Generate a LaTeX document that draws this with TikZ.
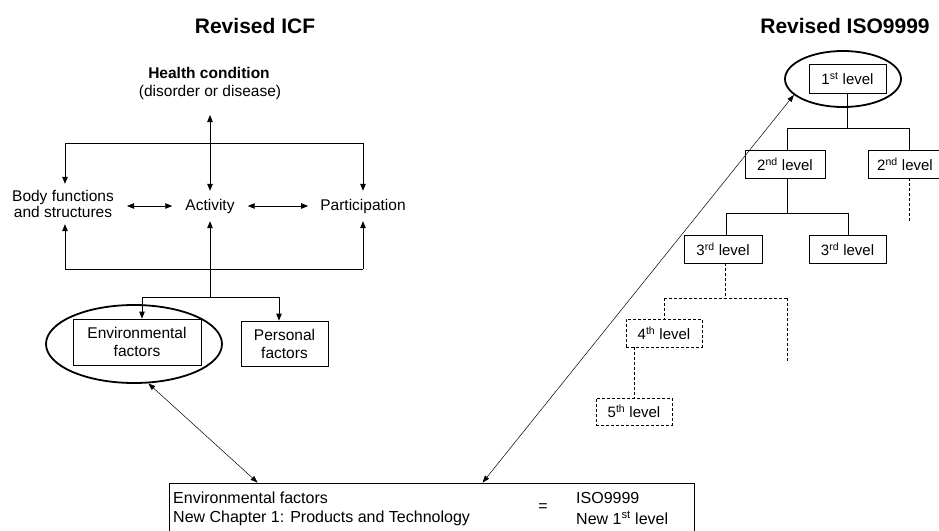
\documentclass[tikz,border=0pt]{standalone}
\usepackage{fontspec}
\setmainfont{Liberation Sans}
\usetikzlibrary{arrows.meta,shapes.geometric,calc}
\begin{document}
\begin{tikzpicture}[x=1pt,y=-1pt,
  every node/.style={font=\fontsize{15.5}{16}\selectfont, inner sep=0pt},
  ttl/.style={font=\fontsize{21}{24}\selectfont\bfseries},
  ln/.style={line width=0.8pt},
  arr/.style={ln,-{Triangle[length=7pt,width=5.5pt]}},
  darr/.style={ln,{Triangle[length=7pt,width=5.5pt]}-{Triangle[length=7pt,width=5.5pt]}},
  longarr/.style={line width=0.5pt,{Triangle[length=7pt,width=5pt]}-{Triangle[length=7pt,width=5pt]}},
  box/.style={draw, line width=0.8pt, rectangle},
  lvl/.style={box, font=\fontsize{15}{16}\selectfont},
  dsh/.style={dash pattern=on 3pt off 2pt},
  ring/.style={draw, ellipse, line width=1.8pt, inner sep=0pt}
]
\useasboundingbox[fill=white] (0,0) rectangle (939,530);

% ---------------- Left: Revised ICF ----------------
\node[ttl] (ticf) at (255,26) {Revised ICF};
\node[font=\fontsize{15.5}{16}\selectfont\bfseries] (hc1) at (209,73) {Health condition};
\node (hc2) at (210,92) {(disorder or disease)};

\node[minimum height=40pt, inner xsep=13pt, align=center] (body) at (63,204) {Body functions\\and structures};
\node[minimum height=30pt, inner xsep=13pt] (act) at (210,206) {Activity};
\node[minimum height=30pt, inner xsep=12pt] (part) at (363,206) {Participation};

\coordinate (hcb) at (210,115);
\draw[darr] (hcb) -- (act.north);
\coordinate (tl) at (65,143);
\coordinate (tr) at (363,143);
\draw[ln] (tl) -- (tr);
\draw[arr] (tl) -- (tl |- body.north);
\draw[arr] (tr) -- (part.north);
\draw[darr] (body.east |- act.west) -- (act.west);
\draw[darr] (act.east) -- (part.west);

\coordinate (bl) at (65,269);
\coordinate (br) at (363,269);
\coordinate (bm) at (210,269);
\draw[ln] (bl) -- (br);
\draw[arr] (bl) -- (bl |- body.south);
\draw[arr] (bm) -- (act.south);
\draw[arr] (br) -- (part.south);

\node[box, minimum width=128pt, minimum height=46pt, align=center, font=\fontsize{15.5}{18}\selectfont] (env) at (137,342) {Environmental\\factors};
\node[box, minimum width=87pt, minimum height=45pt, align=center, font=\fontsize{15.5}{18}\selectfont] (pers) at (284.5,343.5) {Personal\\factors};
\node[ring, minimum width=176pt, minimum height=78pt] (envell) at (134,344) {};

\coordinate (fork) at (210,297);
\coordinate (fl) at (142,297);
\coordinate (fr) at (279,297);
\draw[ln] (bm) -- (fork);
\draw[ln] (fl) -- (fr);
\draw[arr] (fl) -- (fl |- env.north);
\draw[arr] (fr) -- (fr |- pers.north);

% ---------------- Bottom box ----------------
\node[box, minimum width=525pt, minimum height=56pt] (bbox) at (431.5,511) {};
\node[anchor=west, font=\fontsize{16}{18}\selectfont] (bt1) at (173,498) {Environmental factors};
\node[anchor=west, font=\fontsize{16}{18}\selectfont] (bt2) at (173,518) {New Chapter 1: Products and Technology};
\node[font=\fontsize{16}{18}\selectfont] (eq) at (543,508) {=};
\node[anchor=west, font=\fontsize{16}{18}\selectfont] (bt3) at (576,498) {ISO9999};
\node[anchor=west, font=\fontsize{16}{18}\selectfont] (bt4) at (576,518) {New 1\textsuperscript{st} level};

% ---------------- Right: Revised ISO9999 ----------------
\node[ttl] (tiso) at (845,26) {Revised ISO9999};
\node[lvl, minimum width=77pt, minimum height=29pt] (l1) at (847.5,78.5) {1\textsuperscript{st} level};
\node[ring, minimum width=116pt, minimum height=56pt] (ell1) at (843,79) {};

\node[lvl, minimum width=80pt, minimum height=28pt] (l2a) at (785,164) {2\textsuperscript{nd} level};
\node[lvl, minimum width=74pt, minimum height=28pt] (l2b) at (905,164) {2\textsuperscript{nd} level};
\coordinate (j1) at (847.5,128);
\coordinate (j1l) at (787,128);
\coordinate (j1r) at (909,128);
\draw[ln] (l1.south) -- (j1);
\draw[ln] (j1l) -- (j1r);
\draw[ln] (j1l) -- (j1l |- l2a.north);
\draw[ln] (j1r) -- (j1r |- l2b.north);
\coordinate (d2b) at (909,221);
\draw[ln,dsh] (j1r |- l2b.south) -- (d2b);

\node[lvl, minimum width=78pt, minimum height=28pt] (l3a) at (723,249) {3\textsuperscript{rd} level};
\node[lvl, minimum width=77pt, minimum height=28pt] (l3b) at (847.5,249) {3\textsuperscript{rd} level};
\coordinate (j2) at (787,213);
\coordinate (j2l) at (726,213);
\coordinate (j2r) at (848,213);
\draw[ln] (j2 |- l2a.south) -- (j2);
\draw[ln] (j2l) -- (j2r);
\draw[ln] (j2l) -- (j2l |- l3a.north);
\draw[ln] (j2r) -- (j2r |- l3b.north);

\node[lvl, dsh, minimum width=76pt, minimum height=28pt] (l4) at (664,333) {4\textsuperscript{th} level};
\node[lvl, dsh, minimum width=76pt, minimum height=27pt] (l5) at (634,411.5) {5\textsuperscript{th} level};
\coordinate (j3) at (725,298);
\coordinate (j3l) at (664,298);
\coordinate (j3r) at (787,298);
\coordinate (d3r) at (787,363);
\draw[ln,dsh] (j3 |- l3a.south) -- (j3);
\draw[ln,dsh] (j3l) -- (j3r);
\draw[ln,dsh] (j3l) -- (l4.north);
\draw[ln,dsh] (j3r) -- (d3r);
\coordinate (j4) at (634,347);
\draw[ln,dsh] (j4 |- l4.south) -- (l5.north);

% ---------------- Long connectors ----------------
\draw[longarr] (envell.-70) -- ($(bbox.north west)+(89,0)$);
\draw[longarr] ($(bbox.north west)+(314,0)$) -- (ell1.198);
\end{tikzpicture}
\end{document}
